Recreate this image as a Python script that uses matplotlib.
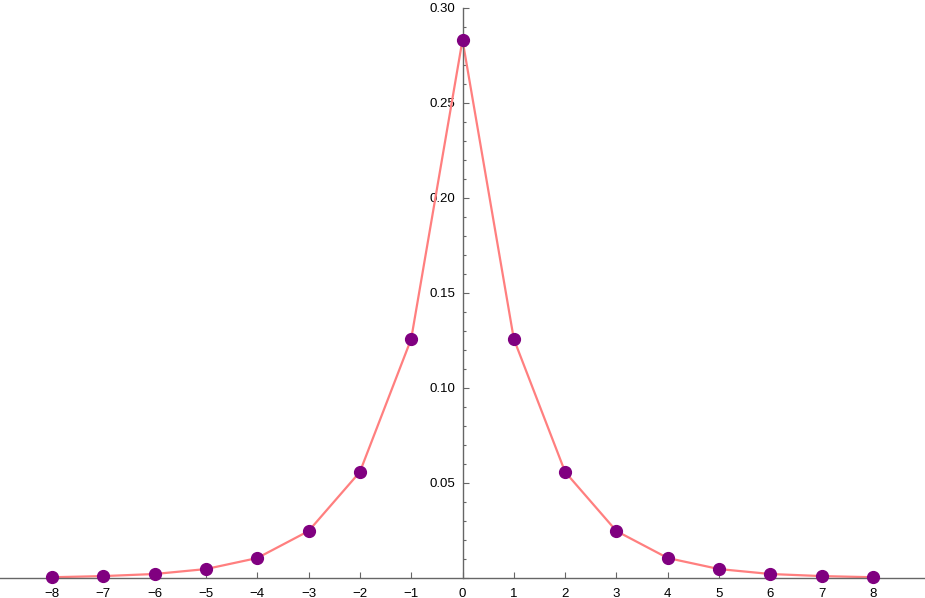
import matplotlib
matplotlib.use("Agg")
import matplotlib.pyplot as plt
from matplotlib.ticker import MultipleLocator, FixedLocator, FuncFormatter

x = [-8, -7, -6, -5, -4, -3, -2, -1, 0, 1, 2, 3, 4, 5, 6, 7, 8]
p = [0.0004, 0.001, 0.0021, 0.0047, 0.0105, 0.0247, 0.0558, 0.1258, 0.2832,
     0.1258, 0.0558, 0.0247, 0.0105, 0.0047, 0.0021, 0.001, 0.0004]

plt.rcParams['font.family'] = ['Liberation Sans', 'DejaVu Sans']

fig = plt.figure(figsize=(9.25, 5.98), dpi=100)
ax = fig.add_axes([0, 0, 1, 1])

ax.plot(x, p, color='#ff7f7f', lw=1.6, zorder=2)
ax.plot(x, p, 'o', color='#800080', ms=8.5, zorder=3, clip_on=False)

ax.set_xlim(-9.013, 9.013)
ax.set_ylim(-0.01053, 0.30421)

for s in ['top', 'right']:
    ax.spines[s].set_visible(False)
ax.spines['left'].set_position(('data', 0))
ax.spines['bottom'].set_position(('data', 0))
ax.spines['left'].set_bounds(0, 0.30)
for s in ['left', 'bottom']:
    ax.spines[s].set_color('#666666')
    ax.spines[s].set_linewidth(1.0)

ax.set_xticks(x)
ax.yaxis.set_major_locator(MultipleLocator(0.05))
ax.yaxis.set_minor_locator(FixedLocator([i / 100 for i in range(1, 30) if i % 5]))
ax.yaxis.set_major_formatter(FuncFormatter(lambda v, pos: '' if abs(v) < 1e-9 else f'{v:.2f}'))

ax.tick_params(axis='both', which='major', direction='in', length=4.5, width=0.8,
               color='#666666', labelsize=9.5, labelcolor='black')
ax.tick_params(axis='x', which='major', pad=7)
ax.tick_params(axis='y', which='major', pad=5)
ax.tick_params(axis='y', which='minor', direction='in', length=2.5, width=0.8, color='#666666')

plt.savefig("out.png", dpi=100)
